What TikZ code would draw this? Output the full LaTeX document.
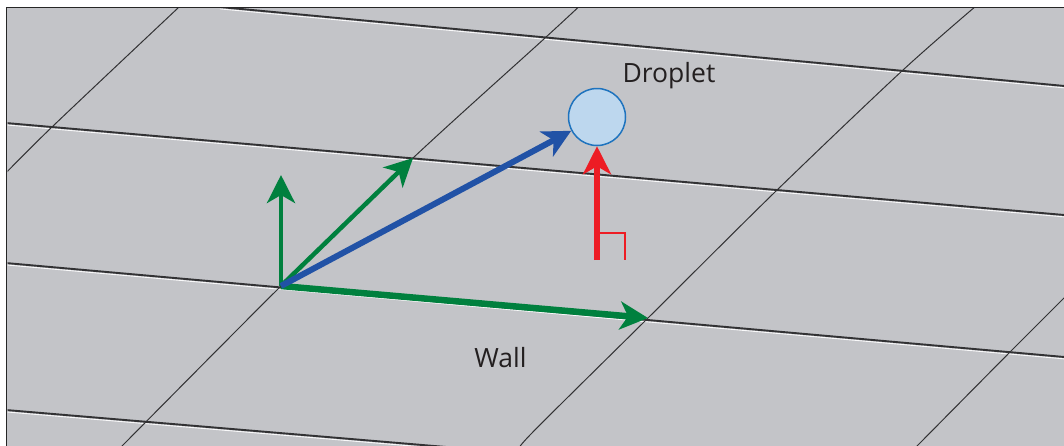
\documentclass[tikz,border=0pt]{standalone}
\usepackage{fontspec}
\setmainfont{Open Sans}
\usetikzlibrary{arrows.meta}
\definecolor{wallgray}{RGB}{195,196,200}
\definecolor{gridgray}{RGB}{50,50,52}
\definecolor{vecgreen}{RGB}{0,128,62}
\definecolor{vecblue}{RGB}{33,82,166}
\definecolor{vecred}{RGB}{237,28,36}
\definecolor{dropfill}{RGB}{189,215,238}
\definecolor{dropline}{RGB}{30,115,190}
\definecolor{textgray}{RGB}{35,31,32}
\begin{document}
\begin{tikzpicture}[x=1pt, y=-1pt,
    gridh/.style={draw=gridgray, line width=1.9pt},
    gridhl/.style={draw=white!90!wallgray, line width=0.9pt},
    grids/.style={draw=gridgray, line width=1pt},
    vec/.style={-{Stealth[length=28pt, width=28pt, inset=8pt]}},
    txt/.style={font=\fontsize{26.5}{30}\selectfont, text=textgray, anchor=base, inner sep=0pt},
    droplet/.style={circle, draw=dropline, fill=dropfill, line width=1.5pt, minimum size=57pt, inner sep=0pt}]
  \clip (0,0) rectangle (1064,445);
  \fill[white] (0,0) rectangle (1064,445);
  \fill[wallgray] (6.5,7.5) rectangle (1070,450);
  \begin{scope}
    \clip (7.5,8.5) rectangle (1070,450);
    \foreach \xa/\ya/\xb/\yb in {220/7/1070/86.5, 0/122.5/1070/215.5, 0/262.5/1070/357.5, 0/409.5/470/449}{
      \draw[gridhl] (\xa,\ya+1.9) -- (\xb,\yb+1.9);
      \draw[gridh] (\xa,\ya) -- (\xb,\yb);
    }
    \draw[grids] plot[smooth] coordinates {(187,0) (178,8) (52,127) (0,179)};
    \draw[grids] plot[smooth] coordinates {(586,0) (545,38) (413,158) (281,286) (123,445) (118,450)};
    \draw[grids] plot[smooth] coordinates {(983,0) (903,70) (775,192) (648,318) (530,435) (520,450)};
    \draw[grids] plot[smooth] coordinates {(1075,287) (1010,352) (918,445) (913,450)};
  \end{scope}
  \draw[black!85, line width=1.5pt] (6.5,450) -- (6.5,7.5) -- (1070,7.5);

  \coordinate (O) at (281,286);
  \coordinate (up) at (281,175);
  \coordinate (diag) at (413,158);
  \coordinate (along) at (648,318);
  \coordinate (foot) at (597,260);
  \node[droplet] (drop) at (597,117) {};
  \node[txt] (droplabel) at (669,82) {Droplet};
  \node[txt] (walllabel) at (500.5,367) {Wall};

  \draw[vec, vecgreen, line width=4.5pt] (O) -- (up);
  \draw[vec, vecgreen, line width=4.5pt] (O) -- (diag);
  \draw[vec, vecgreen, line width=6.5pt] (O) -- (along);
  \draw[vec, vecblue, line width=6pt] (O) -- (drop);
  \draw[vec, vecred, line width=5.5pt] (foot) -- (drop);
  \draw[vecred, line width=1.2pt] (597,233) -| (625,260);
\end{tikzpicture}
\end{document}
